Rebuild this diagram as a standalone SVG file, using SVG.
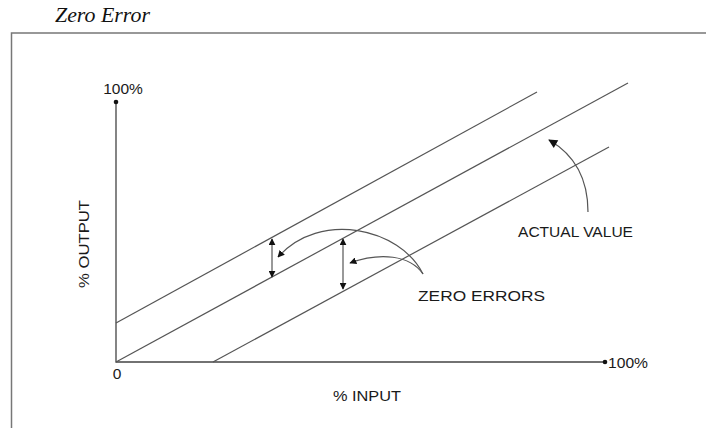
<svg xmlns="http://www.w3.org/2000/svg" width="706" height="428" viewBox="0 0 706 428">
<style>
.ln{stroke:#555;stroke-width:1.2;fill:none}
.ax{stroke:#444;stroke-width:1.3;fill:none}
.t{font-family:"Liberation Sans",Arial,sans-serif;font-size:15.5px;fill:#1a1a1a}
.ttl{font-family:"Liberation Serif","Times New Roman",serif;font-style:italic;font-size:20px;fill:#111}
</style>
<defs>
<marker id="ah" viewBox="0 0 10 10" refX="9" refY="5" markerWidth="7" markerHeight="7" markerUnits="userSpaceOnUse" orient="auto-start-reverse">
<path d="M0,0 L10,5 L0,10 z" fill="#111"/>
</marker>
<marker id="ahb" viewBox="0 0 10 10" refX="9" refY="5" markerWidth="10" markerHeight="9" markerUnits="userSpaceOnUse" orient="auto">
<path d="M0,0 L10,5 L0,10 z" fill="#111"/>
</marker>
</defs>
<rect width="706" height="428" fill="#fff"/>
<g id="title"><text class="ttl" x="55" y="22" textLength="95" lengthAdjust="spacingAndGlyphs">Zero Error</text></g>
<g id="frame"><path d="M11.5,428 V33 H706" stroke="#777" stroke-width="1.5" fill="none"/></g>
<g id="axes">
<path class="ax" d="M116,102 V362 H605"/>
<circle cx="116" cy="102" r="2.3" fill="#111"/>
<circle cx="605" cy="362" r="2.3" fill="#111"/>
<text class="t" x="123" y="94" text-anchor="middle" font-size="14.5">100%</text>
<text class="t" x="608" y="368" textLength="40" lengthAdjust="spacingAndGlyphs">100%</text>
<text class="t" x="117" y="379" text-anchor="middle">0</text>
<text class="t" x="367" y="401" text-anchor="middle" textLength="68" lengthAdjust="spacingAndGlyphs">% INPUT</text>
<text class="t" transform="translate(89,244) rotate(-90)" text-anchor="middle" textLength="88" lengthAdjust="spacingAndGlyphs" font-size="16.5">% OUTPUT</text>
</g>
<g id="lines">
<line class="ln" x1="116" y1="323" x2="537" y2="92"/>
<line class="ln" x1="116" y1="362" x2="628" y2="83"/>
<line class="ln" x1="213" y1="362" x2="609" y2="147"/>
</g>
<g id="connectors">
<line class="ln" x1="272" y1="239" x2="272" y2="277" marker-start="url(#ah)" marker-end="url(#ah)"/>
<line class="ln" x1="343" y1="239" x2="343" y2="289" marker-start="url(#ah)" marker-end="url(#ah)"/>
<path class="ln" d="M423,274 C400,228 320,210 278,257" marker-end="url(#ah)"/>
<path class="ln" d="M423,274 C410,255 380,252 350,263" marker-end="url(#ah)"/>
<path class="ln" d="M588,212 C588,180 575,155 549,140" marker-end="url(#ahb)"/>
</g>
<g id="labels">
<text class="t" x="418" y="301" textLength="127" lengthAdjust="spacingAndGlyphs">ZERO ERRORS</text>
<text class="t" x="518" y="237" textLength="115" lengthAdjust="spacingAndGlyphs">ACTUAL VALUE</text>
</g>
</svg>
